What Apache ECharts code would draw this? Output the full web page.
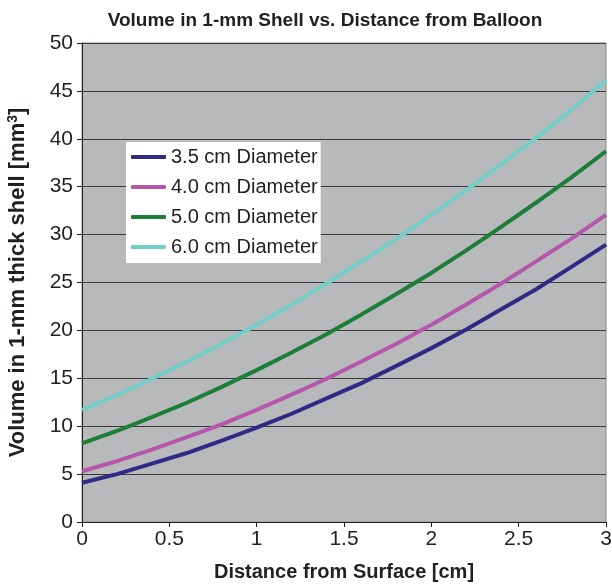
<!DOCTYPE html>
<html><head><meta charset="utf-8">
<script src="https://cdn.jsdelivr.net/npm/echarts@6/dist/echarts.min.js"></script>
<style>html,body{margin:0;padding:0;background:#fff}#c{width:612px;height:586px}</style>
</head><body><div id="c"></div>
<script>
const distance = [0,0.2,0.4,0.6,0.8,1.0,1.2,1.4,1.6,1.8,2.0,2.2,2.4,2.6,2.8,3.0];
const d35 = [4.1,5.0,6.1,7.2,8.5,9.85,11.3,12.9,14.5,16.3,18.15,20.1,22.2,24.3,26.6,28.95];
const d40 = [5.3,6.35,7.55,8.85,10.2,11.7,13.3,14.95,16.75,18.6,20.6,22.7,24.9,27.2,29.55,32.05];
const d50 = [8.2,9.5,10.95,12.45,14.1,15.85,17.7,19.6,21.65,23.8,26.0,28.35,30.8,33.35,35.95,38.7];
const d60 = [11.7,13.25,14.95,16.75,18.6,20.6,22.7,24.9,27.2,29.55,32.05,34.65,37.35,40.1,43.0,46.1];
const seriesNames = ['3.5 cm Diameter','4.0 cm Diameter','5.0 cm Diameter','6.0 cm Diameter'];
const colors = ['#2e2a85','#b456aa','#1e7d3a','#74cdc7'];
const allData = [d35,d40,d50,d60];

const chart = echarts.init(document.getElementById('c'), null, {renderer:'canvas'});
const font = 'Liberation Sans, Arial, Helvetica, sans-serif';
chart.setOption({
  animation:false,
  backgroundColor:'#fff',
  title:{text:'Volume in 1-mm Shell vs. Distance from Balloon',left:320,textAlign:'center',top:6,
    textStyle:{fontFamily:font,fontWeight:'bold',fontSize:19,color:'#231f20'}},
  legend:{orient:'vertical',left:126,top:142,backgroundColor:'#fff',padding:[5,3,6,5],
    itemWidth:35,itemHeight:4,itemGap:10,icon:'roundRect',
    textStyle:{fontFamily:font,fontSize:20,color:'#231f20',lineHeight:20},
    data:seriesNames},
  grid:{left:82,right:6,top:43,bottom:64,outerBoundsMode:'none',containLabel:false,
    show:true,backgroundColor:'#b7b9ba',borderColor:'#8a8a8a',borderWidth:1},
  xAxis:{type:'value',min:0,max:3,interval:0.5,
    name:'Distance from Surface [cm]',nameLocation:'middle',nameGap:40,
    nameTextStyle:{fontFamily:font,fontWeight:'bold',fontSize:20,color:'#231f20'},
    axisLine:{lineStyle:{color:'#231f20',width:1}},
    axisTick:{show:true,length:5,lineStyle:{color:'#231f20'}},
    axisLabel:{fontFamily:font,fontSize:21,color:'#231f20',margin:7},
    splitLine:{show:false}},
  yAxis:{type:'value',min:0,max:50,interval:5,
    name:'Volume in 1-mm thick shell [mm{sup|3}]',nameLocation:'middle',nameGap:52,
    nameTextStyle:{fontFamily:font,fontWeight:'bold',fontSize:22,color:'#231f20',
      rich:{sup:{fontFamily:font,fontWeight:'bold',fontSize:14,color:'#231f20',verticalAlign:'top',padding:[0,0,10,0]}}},
    axisLine:{show:true,lineStyle:{color:'#231f20',width:1}},
    axisTick:{show:true,length:5,lineStyle:{color:'#231f20'}},
    axisLabel:{fontFamily:font,fontSize:21,color:'#231f20',margin:9},
    splitLine:{show:true,lineStyle:{color:'#3a3a3a',width:1}}},
  series: allData.map((arr,i)=>({
    name:seriesNames[i],type:'line',showSymbol:false,symbol:'none',
    data:distance.map((x,j)=>[x,arr[j]]),
    lineStyle:{color:colors[i],width:4},itemStyle:{color:colors[i]}
  }))
});
</script></body></html>
